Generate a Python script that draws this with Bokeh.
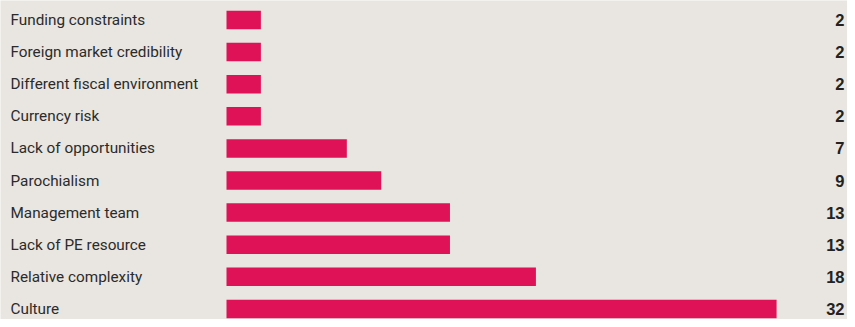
from bokeh.plotting import figure
from bokeh.models import Range1d, ColumnDataSource
from bokeh.core.properties import value
from bokeh.embed import file_html
from bokeh.resources import INLINE

categories = ["Funding constraints", "Foreign market credibility", "Different fiscal environment",
              "Currency risk", "Lack of opportunities", "Parochialism", "Management team",
              "Lack of PE resource", "Relative complexity", "Culture"]
counts = [2, 2, 2, 2, 7, 9, 13, 13, 18, 32]

W, H = 847, 319
bar_left_px = 226
px_per_unit = 17.19
row_px = 32.1
first_row_px = 19.5
bar_px = 18.5

rows = list(range(len(categories)))
src = ColumnDataSource(dict(cat=categories, val=counts, row=rows,
                            lbl=[str(v) for v in counts]))

x0 = -bar_left_px / px_per_unit
x1 = (W - bar_left_px) / px_per_unit
y_top = -first_row_px / row_px
y_bot = y_top + H / row_px

p = figure(width=W, height=H, output_backend="svg", toolbar_location=None,
           x_range=Range1d(x0, x1), y_range=Range1d(y_bot, y_top),
           min_border=0, outline_line_color=None,
           background_fill_color="#e9e5e0", border_fill_color="#e9e5e0")
p.axis.visible = False
p.grid.visible = False

p.hbar(y="row", left=0, right="val", height=bar_px / row_px, source=src,
       fill_color="#e01257", line_color=None)

p.text(x=x0, y="row", text="cat", source=src, x_offset=10,
       text_font=value("Roboto"), text_font_size="15.3px",
       text_color="#2b2b2b", text_baseline="middle", text_align="left")

p.text(x=x1, y="row", text="lbl", source=src, x_offset=-3,
       text_font=value("Liberation Sans"), text_font_style="bold", text_font_size="16.5px",
       text_color="#222222", text_baseline="middle", text_align="right")

open("out.html", "w").write(file_html(p, INLINE))
